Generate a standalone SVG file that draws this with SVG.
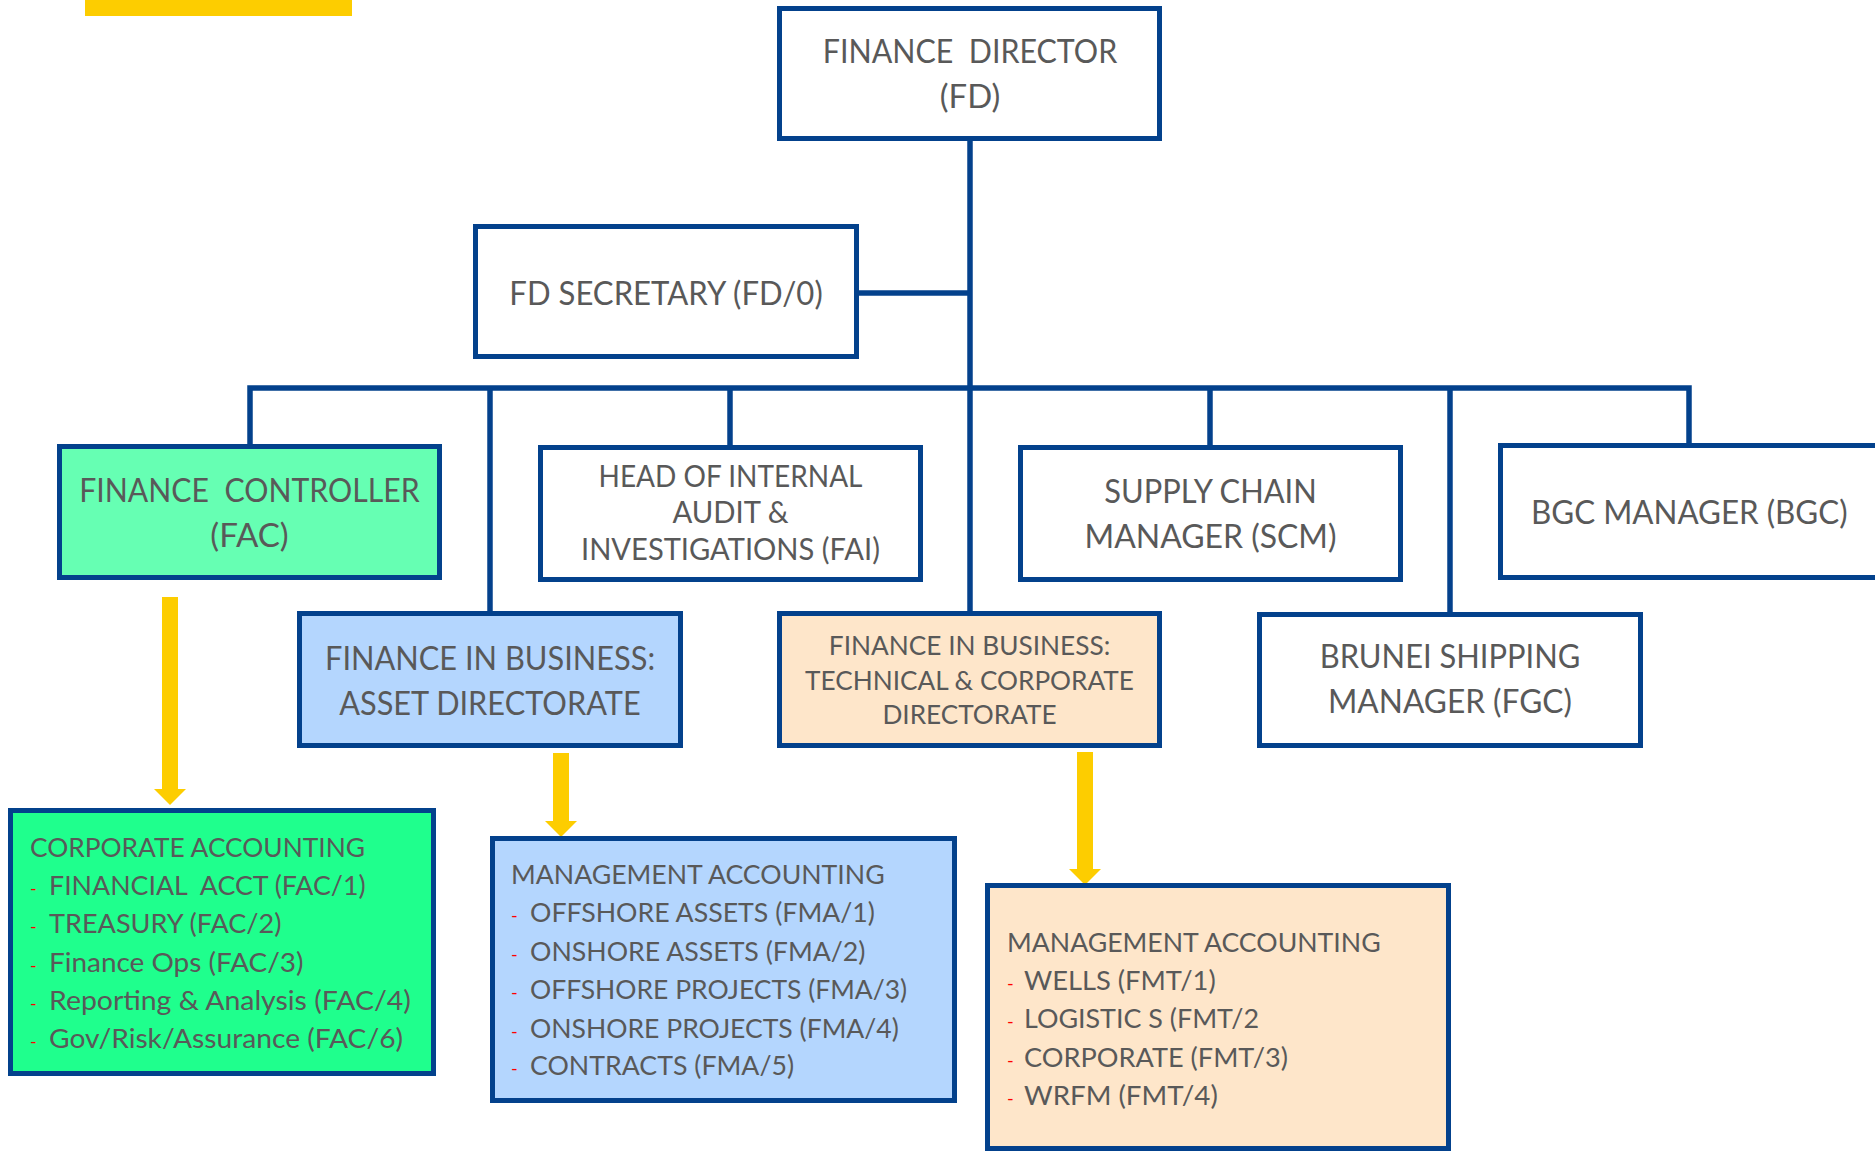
<svg xmlns="http://www.w3.org/2000/svg" width="1875" height="1153" viewBox="0 0 1875 1153">
<style>
.bx{stroke:#03418C;stroke-width:5}
.w{fill:#ffffff}
.t{font-family:Lato,"Open Sans","Liberation Sans",sans-serif;fill:#595959}
.l{font-size:32.4px}
.m{font-size:30px}
.s{font-size:27.7px}
.d{font-family:Lato,"Liberation Sans",sans-serif;font-size:18px;fill:#FF0000}
.cn{fill:none;stroke:#03418C;stroke-width:5.5}
.ya{fill:none;stroke:#FDCD00;stroke-width:16}
</style>
<defs>
<marker id="yh" markerUnits="userSpaceOnUse" viewBox="0 0 16 32" markerWidth="16" markerHeight="32" refX="0" refY="16" orient="auto">
<path d="M0,0 L16,16 L0,32 Z" fill="#FDCD00"/>
</marker>
</defs>
<rect x="85" y="0" width="267" height="16" fill="#FDCD00"/>
<g id="connectors">
<path class="cn" d="M970,141 V611"/>
<path class="cn" d="M859,293 H970"/>
<path class="cn" d="M250,444 V388 H1689 V443"/>
<path class="cn" d="M490,388 V611"/>
<path class="cn" d="M730,388 V446"/>
<path class="cn" d="M1210,388 V446"/>
<path class="cn" d="M1450,388 V612"/>
<path class="ya" d="M170,597 V789" marker-end="url(#yh)"/>
<path class="ya" d="M561,753 V821" marker-end="url(#yh)"/>
<path class="ya" d="M1085,752 V869" marker-end="url(#yh)"/>
</g>
<g id="fd">
<rect class="bx w" x="779.5" y="8.5" width="380" height="130"/>
<text class="t l" x="822.8" y="63" textLength="294.4" lengthAdjust="spacingAndGlyphs" xml:space="preserve">FINANCE  DIRECTOR</text>
<text class="t l" x="939.8" y="108" textLength="60.5" lengthAdjust="spacingAndGlyphs">(FD)</text>
</g>
<g id="fd-secretary">
<rect class="bx w" x="475.5" y="226.5" width="381" height="130"/>
<text class="t l" x="509.3" y="305" textLength="313.4" lengthAdjust="spacingAndGlyphs">FD SECRETARY (FD/0)</text>
</g>
<g id="fac">
<rect class="bx" fill="#66FFB3" x="59.5" y="446.5" width="380" height="131"/>
<text class="t l" x="79.2" y="502" textLength="340.5" lengthAdjust="spacingAndGlyphs" xml:space="preserve">FINANCE  CONTROLLER</text>
<text class="t l" x="210.3" y="547" textLength="78.4" lengthAdjust="spacingAndGlyphs">(FAC)</text>
</g>
<g id="fai">
<rect class="bx w" x="540.5" y="447.5" width="380" height="132"/>
<text class="t m" x="598.5" y="487" textLength="264" lengthAdjust="spacingAndGlyphs">HEAD OF INTERNAL</text>
<text class="t m" x="672.5" y="523" textLength="116" lengthAdjust="spacingAndGlyphs">AUDIT &amp;</text>
<text class="t m" x="581" y="560" textLength="299" lengthAdjust="spacingAndGlyphs">INVESTIGATIONS (FAI)</text>
</g>
<g id="scm">
<rect class="bx w" x="1020.5" y="447.5" width="380" height="132"/>
<text class="t l" x="1104.3" y="503" textLength="212.4" lengthAdjust="spacingAndGlyphs">SUPPLY CHAIN</text>
<text class="t l" x="1084.5" y="548" textLength="252" lengthAdjust="spacingAndGlyphs">MANAGER (SCM)</text>
</g>
<g id="bgc">
<rect class="bx w" x="1500.5" y="445.5" width="390" height="132"/>
<text class="t l" x="1531" y="524" textLength="316.6" lengthAdjust="spacingAndGlyphs">BGC MANAGER (BGC)</text>
</g>
<g id="asset-directorate">
<rect class="bx" fill="#B4D6FE" x="299.5" y="613.5" width="381" height="132"/>
<text class="t l" x="325" y="670" textLength="330.1" lengthAdjust="spacingAndGlyphs">FINANCE IN BUSINESS:</text>
<text class="t l" x="339.2" y="715" textLength="301.5" lengthAdjust="spacingAndGlyphs">ASSET DIRECTORATE</text>
</g>
<g id="tech-corp-directorate">
<rect class="bx" fill="#FEE6CA" x="779.5" y="613.5" width="380" height="132"/>
<text class="t s" x="828.8" y="655" textLength="281.5" lengthAdjust="spacingAndGlyphs">FINANCE IN BUSINESS:</text>
<text class="t s" x="805.1" y="690" textLength="328.8" lengthAdjust="spacingAndGlyphs">TECHNICAL &amp; CORPORATE</text>
<text class="t s" x="882.4" y="724" textLength="174.3" lengthAdjust="spacingAndGlyphs">DIRECTORATE</text>
</g>
<g id="fgc">
<rect class="bx w" x="1259.5" y="614.5" width="381" height="131"/>
<text class="t l" x="1319.7" y="668" textLength="260.6" lengthAdjust="spacingAndGlyphs">BRUNEI SHIPPING</text>
<text class="t l" x="1328" y="713" textLength="243.9" lengthAdjust="spacingAndGlyphs">MANAGER (FGC)</text>
</g>
<g id="corporate-accounting">
<rect class="bx" fill="#1FFF8D" x="10.5" y="810.5" width="423" height="263"/>
<text class="t s" x="30" y="857" textLength="335" lengthAdjust="spacingAndGlyphs">CORPORATE ACCOUNTING</text>
<text class="d" x="30" y="895">-</text>
<text class="t s" x="49" y="895" textLength="316.6" lengthAdjust="spacingAndGlyphs" xml:space="preserve">FINANCIAL  ACCT (FAC/1)</text>
<text class="d" x="30" y="933">-</text>
<text class="t s" x="49" y="933" textLength="232.5" lengthAdjust="spacingAndGlyphs">TREASURY (FAC/2)</text>
<text class="d" x="30" y="972">-</text>
<text class="t s" x="49" y="972" textLength="254.5" lengthAdjust="spacingAndGlyphs">Finance Ops (FAC/3)</text>
<text class="d" x="30" y="1010">-</text>
<text class="t s" x="49" y="1010" textLength="361.8" lengthAdjust="spacingAndGlyphs">Reporting &amp; Analysis (FAC/4)</text>
<text class="d" x="30" y="1048">-</text>
<text class="t s" x="49" y="1048" textLength="354" lengthAdjust="spacingAndGlyphs">Gov/Risk/Assurance (FAC/6)</text>
</g>
<g id="management-accounting-asset">
<rect class="bx" fill="#B4D6FE" x="492.5" y="838.5" width="462" height="262"/>
<text class="t s" x="511" y="884" textLength="373.6" lengthAdjust="spacingAndGlyphs">MANAGEMENT ACCOUNTING</text>
<text class="d" x="511" y="922">-</text>
<text class="t s" x="530" y="922" textLength="345" lengthAdjust="spacingAndGlyphs">OFFSHORE ASSETS (FMA/1)</text>
<text class="d" x="511" y="961">-</text>
<text class="t s" x="530" y="961" textLength="335.5" lengthAdjust="spacingAndGlyphs">ONSHORE ASSETS (FMA/2)</text>
<text class="d" x="511" y="999">-</text>
<text class="t s" x="530" y="999" textLength="377.2" lengthAdjust="spacingAndGlyphs">OFFSHORE PROJECTS (FMA/3)</text>
<text class="d" x="511" y="1038">-</text>
<text class="t s" x="530" y="1038" textLength="368.8" lengthAdjust="spacingAndGlyphs">ONSHORE PROJECTS (FMA/4)</text>
<text class="d" x="511" y="1075">-</text>
<text class="t s" x="530" y="1075" textLength="264.1" lengthAdjust="spacingAndGlyphs">CONTRACTS (FMA/5)</text>
</g>
<g id="management-accounting-tech">
<rect class="bx" fill="#FEE6CA" x="987.5" y="885.5" width="461" height="263"/>
<text class="t s" x="1007" y="952" textLength="373.6" lengthAdjust="spacingAndGlyphs">MANAGEMENT ACCOUNTING</text>
<text class="d" x="1007" y="990">-</text>
<text class="t s" x="1024" y="990" textLength="191.7" lengthAdjust="spacingAndGlyphs">WELLS (FMT/1)</text>
<text class="d" x="1007" y="1028">-</text>
<text class="t s" x="1024" y="1028" textLength="235" lengthAdjust="spacingAndGlyphs">LOGISTIC S (FMT/2</text>
<text class="d" x="1007" y="1067">-</text>
<text class="t s" x="1024" y="1067" textLength="263.9" lengthAdjust="spacingAndGlyphs">CORPORATE (FMT/3)</text>
<text class="d" x="1007" y="1105">-</text>
<text class="t s" x="1024" y="1105" textLength="193.8" lengthAdjust="spacingAndGlyphs">WRFM (FMT/4)</text>
</g>
</svg>
